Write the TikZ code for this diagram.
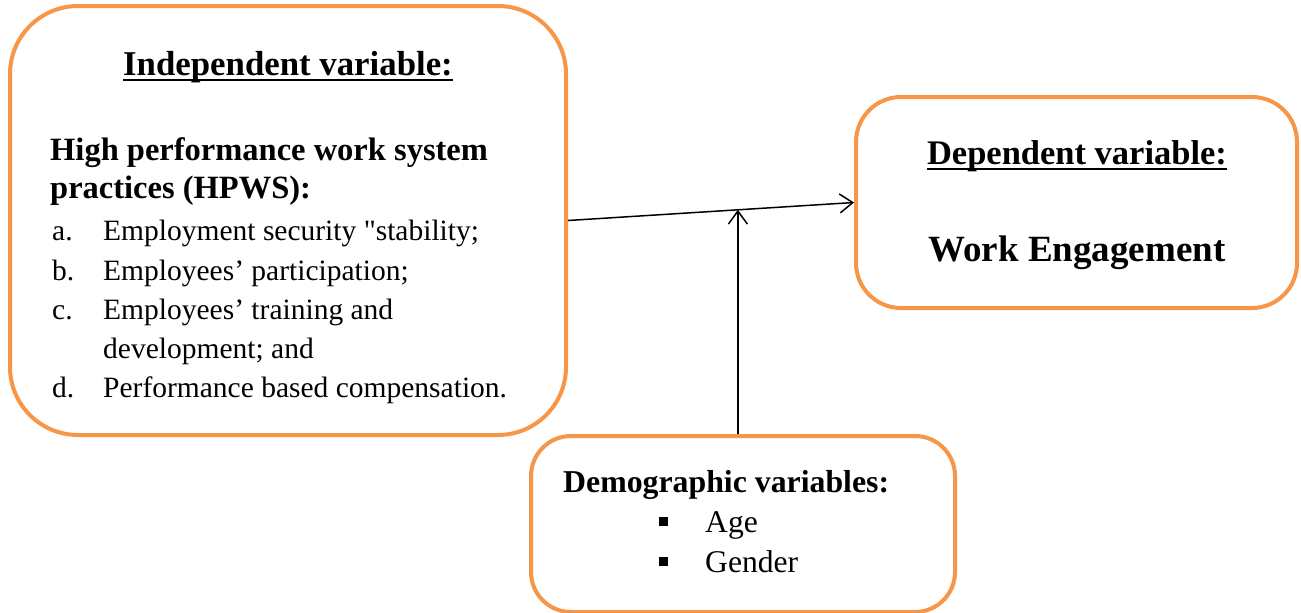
\documentclass[tikz,border=0pt]{standalone}
\usepackage{fontspec}
\setmainfont{Liberation Serif}
\setmonofont{Liberation Serif}
\usetikzlibrary{arrows.meta,calc}
\definecolor{orng}{HTML}{F79646}
\begin{document}
\begin{tikzpicture}[x=1pt,y=-1pt,
  box/.style={draw=orng, line width=4pt, inner sep=0pt, fill=white},
  txt/.style={inner sep=0pt, anchor=base west},
  ctxt/.style={inner sep=0pt, anchor=base},
  conn/.style={line width=1.5pt, -{Straight Barb[length=13pt,width=19pt]}},
  uline/.style={line width=2.8pt}]
\useasboundingbox (0,0) rectangle (1301,613);
\clip (0,0) rectangle (1301,613);
% boxes
\node[box, rounded corners=68pt, minimum width=556pt, minimum height=429pt] (L) at (288,220.5) {};
\node[box, rounded corners=45pt, minimum width=441pt, minimum height=211pt] (R) at (1076.5,202.5) {};
\node[box, rounded corners=40pt, minimum width=424pt, minimum height=176pt] (D) at (743,524) {};
% left box text
\node[ctxt, font=\fontsize{34.8}{40}\selectfont\bfseries] (t1) at (288,75) {Independent variable:};
\draw[uline] ([yshift=-5pt]t1.base west) -- ([yshift=-5pt]t1.base east);
\node[txt, font=\fontsize{32.5}{38}\selectfont\bfseries] (h1) at (50,160) {High performance work system};
\node[txt, font=\fontsize{32.5}{38}\selectfont\bfseries] (h2) at (50,198) {practices (HPWS):};
\tikzset{li/.style={txt, font=\fontsize{29.5}{36}\selectfont}}
\node[li] (la) at (52,240) {a.};
\node[li] (ta) at (103,240) {Employment security {\ttfamily\symbol{34}}stability;};
\node[li] (lb) at (52,280) {b.};
\node[li] (tb) at (103,280) {Employees’ participation;};
\node[li] (lc) at (52,319) {c.};
\node[li] (tc) at (103,319) {Employees’ training and};
\node[li] (tc2) at (103,358) {development; and};
\node[li] (ld) at (52,397) {d.};
\node[li] (td) at (103,397) {Performance based compensation.};
% right box text
\node[ctxt, font=\fontsize{34.5}{40}\selectfont\bfseries] (t2) at (1077,164) {Dependent variable:};
\draw[uline] ([yshift=-5pt]t2.base west) -- ([yshift=-5pt]t2.base east);
\node[ctxt, font=\fontsize{37}{42}\selectfont\bfseries] (we) at (1077,261) {Work Engagement};
% bottom box text
\node[txt, font=\fontsize{31.8}{38}\selectfont\bfseries] (dv) at (563,492) {Demographic variables:};
\node[inner sep=0pt, minimum size=9pt, fill=black] (b1) at (663.5,521.5) {};
\node[inner sep=0pt, minimum size=9pt, fill=black] (b2) at (663.5,561.5) {};
\node[txt, font=\fontsize{31.6}{38}\selectfont] (age) at (705,532) {Age};
\node[txt, font=\fontsize{31.6}{38}\selectfont] (gen) at (705,572) {Gender};
% connectors
\coordinate (m) at ($(L.east)!0.594!(R.west)$);
\draw[conn] (L.east) -- (R.west);
\draw[conn] (D.north -| m) -- (m);
\end{tikzpicture}
\end{document}
